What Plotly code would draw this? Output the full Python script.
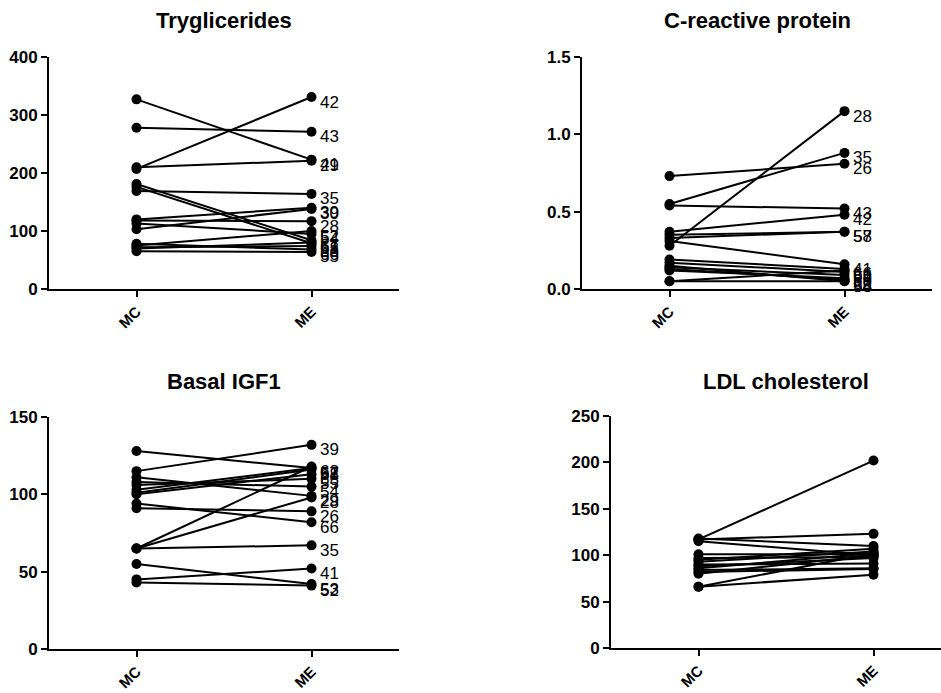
import plotly.graph_objects as go

# ---------------- data ----------------
categories = ["MC", "ME"]

tg_ids = [42, 43, 41, 29, 35, 39, 30, 28, 52, 54, 57, 58, 61, 53, 66, 55]
tg_mc = [207, 278, 327, 210, 169, 120, 103, 118, 75, 113, 181, 176, 70, 72, 78, 65]
tg_me = [331, 271, 223, 221, 164, 140, 138, 117, 100, 95, 84, 79, 80, 74, 68, 64]

crp_ids = [28, 35, 26, 43, 42, 57, 58, 41, 66, 61, 39, 52, 53, 55, 54, 29]
crp_mc = [0.28, 0.55, 0.73, 0.54, 0.37, 0.35, 0.33, 0.31, 0.19, 0.17, 0.14, 0.12, 0.05, 0.05, 0.15, 0.13]
crp_me = [1.15, 0.88, 0.81, 0.52, 0.48, 0.37, 0.37, 0.16, 0.13, 0.11, 0.09, 0.07, 0.12, 0.05, 0.05, 0.06]

igf_ids = [39, 57, 61, 62, 58, 65, 55, 54, 29, 28, 26, 66, 35, 41, 53, 52]
igf_mc = [115, 128, 103, 65, 101, 100, 106, 108, 111, 65, 91, 94, 65, 45, 55, 43]
igf_me = [132, 117, 117, 118, 116, 113, 110, 105, 99, 98, 89, 82, 67, 52, 42, 41]

ldl_mc = [117, 117, 118, 115, 66, 66, 101, 97, 93, 90, 88, 86, 84, 82, 80, 95]
ldl_me = [202, 123, 110, 100, 102, 79, 101, 98, 104, 91, 97, 102, 86, 85, 100, 107]

# ---------------- layout helpers ----------------
W, H = 941, 693


def fx(x):
    return x / W


def fy(y):
    return 1 - y / H


FONT = "Arial, Liberation Sans, sans-serif"

panels = [
    dict(title="Tryglicerides", ids=tg_ids, mc=tg_mc, me=tg_me,
         x0=49, x1=399, y0=57, y1=289, yr=[0, 400], ticks=[0, 100, 200, 300, 400],
         fmt="d", xr=[-0.5, 1.5], ty=21),
    dict(title="C-reactive protein", ids=crp_ids, mc=crp_mc, me=crp_me,
         x0=582, x1=932, y0=57, y1=289, yr=[0, 1.5], ticks=[0, 0.5, 1.0, 1.5],
         fmt=".1f", xr=[-0.5, 1.5], ty=21),
    dict(title="Basal IGF1", ids=igf_ids, mc=igf_mc, me=igf_me,
         x0=49, x1=399, y0=417, y1=649, yr=[0, 150], ticks=[0, 50, 100, 150],
         fmt="d", xr=[-0.5, 1.5], ty=382),
    dict(title="LDL cholesterol", ids=None, mc=ldl_mc, me=ldl_me,
         x0=611, x1=941, y0=416, y1=648, yr=[0, 250], ticks=[0, 50, 100, 150, 200, 250],
         fmt="d", xr=[-0.5, (941 - 611) / 175 - 0.5], ty=382, tcx=786),
]

fig = go.Figure()
annotations = []
layout_axes = {}

for i, p in enumerate(panels, start=1):
    xa = "x" if i == 1 else f"x{i}"
    ya = "y" if i == 1 else f"y{i}"
    xs, ys = [], []
    for a, b in zip(p["mc"], p["me"]):
        xs += [categories[0], categories[1], None]
        ys += [a, b, None]
    fig.add_trace(go.Scatter(
        x=xs, y=ys, xaxis=xa, yaxis=ya, mode="lines+markers",
        line=dict(color="black", width=2),
        marker=dict(color="black", size=10),
        cliponaxis=False, showlegend=False, hoverinfo="skip"))

    layout_axes[f"xaxis{'' if i == 1 else i}"] = dict(
        domain=[fx(p["x0"]), fx(p["x1"])], range=p["xr"], anchor=ya,
        type="category", categoryorder="array", categoryarray=categories,
        tickangle=-45, showline=True, linecolor="black", linewidth=2,
        ticks="outside", ticklen=6, tickwidth=2, tickcolor="black",
        showgrid=False, zeroline=False, automargin=False,
        tickfont=dict(family=FONT, size=15, color="black", weight="bold"))
    layout_axes[f"yaxis{'' if i == 1 else i}"] = dict(
        domain=[fy(p["y1"]), fy(p["y0"])], range=p["yr"], anchor=xa,
        tickvals=p["ticks"], tickformat=p["fmt"],
        showline=True, linecolor="black", linewidth=2,
        ticks="outside", ticklen=6, tickwidth=2, tickcolor="black",
        showgrid=False, zeroline=False, automargin=False,
        tickfont=dict(family=FONT, size=17, color="black", weight="bold"))

    if p["ids"] is not None:
        for sid, v in zip(p["ids"], p["me"]):
            annotations.append(dict(
                xref=xa, yref=ya, x=categories[1], y=v, text=str(sid),
                xanchor="left", yanchor="middle", xshift=6, yshift=-5,
                showarrow=False, font=dict(family=FONT, size=17, color="black")))

    tcx = p.get("tcx", (p["x0"] + p["x1"]) / 2)
    annotations.append(dict(
        xref="paper", yref="paper", x=fx(tcx), y=fy(p["ty"]),
        text=p["title"], xanchor="center", yanchor="middle", showarrow=False,
        font=dict(family=FONT, size=22, color="black", weight="bold")))

fig.update_layout(
    width=W, height=H, margin=dict(l=0, r=0, t=0, b=0, autoexpand=False),
    paper_bgcolor="white", plot_bgcolor="white", hovermode=False,
    annotations=annotations, **layout_axes)

fig.write_html("out.html",
               config={"displayModeBar": False, "staticPlot": True},
               post_script="document.body.style.margin='0';document.body.style.overflow='hidden';")
